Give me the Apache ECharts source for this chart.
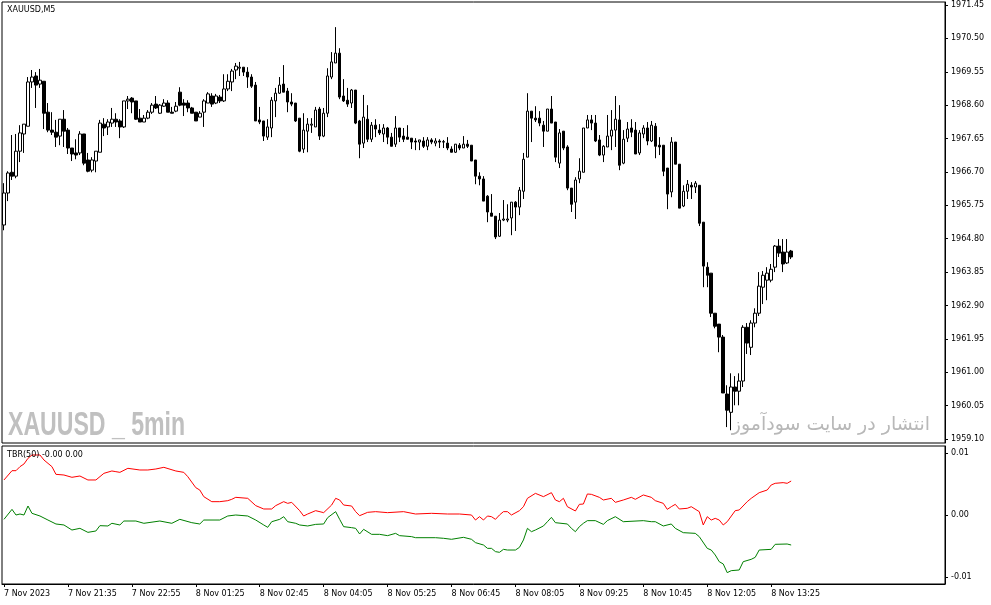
<!DOCTYPE html>
<html>
<head>
<meta charset="utf-8">
<script src="https://cdn.jsdelivr.net/npm/echarts@6/dist/echarts.min.js"></script>
<style>
html,body{margin:0;padding:0;background:#fff;}
#chart{width:991px;height:605px;}
</style>
</head>
<body>
<div id="chart"></div>
<script>
// ---- data ----
const symbolTitle = 'XAUUSD,M5';
const indicatorTitle = 'TBR(50) -0.00 0.00';
const xTickLabels = ['7 Nov 2023','7 Nov 21:35','7 Nov 22:55','8 Nov 01:25','8 Nov 02:45','8 Nov 04:05','8 Nov 05:25','8 Nov 06:45','8 Nov 08:05','8 Nov 09:25','8 Nov 10:45','8 Nov 12:05','8 Nov 13:25'];
const barsPerTick = 16;
const totalSlots = 236;
const priceTicks = [1959.10,1960.05,1961.00,1961.95,1962.90,1963.85,1964.80,1965.75,1966.70,1967.65,1968.60,1969.55,1970.50,1971.45];
const tbrTicks = [-0.01, 0, 0.01];

const opens = [1965.19,1966.10,1966.69,1966.58,1967.29,1967.78,1968.00,1969.26,1969.43,1969.20,
1969.28,1968.40,1967.89,1967.83,1967.72,1968.20,1967.89,1967.38,1967.24,1967.24,
1967.78,1967.04,1966.75,1967.01,1967.26,1968.06,1967.98,1968.09,1968.20,1968.15,
1967.98,1968.72,1968.80,1968.72,1968.23,1968.12,1968.23,1968.40,1968.63,1968.37,
1968.57,1968.66,1968.40,1968.43,1968.97,1968.66,1968.66,1968.52,1968.40,1968.26,
1968.40,1968.66,1968.86,1968.66,1968.83,1968.72,1969.06,1969.26,1969.60,1969.65,
1969.68,1969.54,1969.40,1969.17,1968.18,1968.15,1967.69,1967.95,1968.72,1968.94,
1969.20,1969.00,1968.69,1968.66,1968.23,1967.35,1967.86,1968.03,1967.98,1968.49,
1967.72,1968.37,1969.40,1969.80,1970.08,1968.86,1968.74,1968.66,1969.03,1968.15,
1967.52,1968.20,1967.63,1968.03,1967.89,1967.78,1967.95,1967.69,1967.49,1967.95,
1967.72,1967.69,1967.66,1967.58,1967.55,1967.58,1967.43,1967.61,1967.52,1967.58,
1967.56,1967.52,1967.35,1967.26,1967.46,1967.38,1967.49,1967.46,1967.04,1966.58,
1966.50,1966.01,1965.53,1965.44,1964.87,1965.33,1965.33,1965.39,1965.84,1965.70,
1966.15,1967.12,1968.43,1968.23,1968.23,1968.03,1967.86,1968.49,1968.12,1966.95,
1967.86,1967.41,1966.24,1965.84,1966.50,1966.69,1967.95,1968.18,1968.09,1967.61,
1967.18,1967.41,1967.72,1967.89,1968.18,1966.95,1967.66,1967.95,1967.89,1967.24,
1967.78,1967.95,1967.58,1968.00,1967.46,1967.46,1966.81,1966.13,1967.55,1966.92,
1965.73,1966.15,1966.32,1966.27,1966.32,1965.27,1963.99,1963.82,1962.68,1962.37,
1962.00,1960.38,1959.86,1960.58,1960.46,1960.75,1962.28,1961.71,1962.40,1962.68,
1963.42,1963.62,1963.62,1963.99,1964.59,1964.42,1964.11,1964.45];

const closes = [1966.10,1966.67,1966.58,1967.29,1967.81,1968.06,1969.26,1969.40,1969.17,1969.31,
1968.37,1967.89,1967.83,1967.69,1968.20,1967.86,1967.38,1967.21,1967.18,1967.78,
1966.95,1966.72,1967.04,1967.29,1968.09,1967.95,1968.12,1968.20,1968.12,1967.98,
1968.72,1968.77,1968.69,1968.20,1968.12,1968.23,1968.40,1968.60,1968.52,1968.60,
1968.66,1968.40,1968.37,1968.57,1968.60,1968.60,1968.52,1968.37,1968.15,1968.37,
1968.72,1968.92,1968.63,1968.86,1968.72,1969.06,1969.28,1969.57,1969.71,1969.68,
1969.54,1969.40,1969.14,1968.15,1968.12,1967.72,1967.98,1968.74,1968.94,1969.17,
1968.97,1968.69,1968.63,1968.15,1967.29,1967.89,1968.06,1968.06,1968.46,1967.72,
1968.37,1969.43,1969.83,1970.08,1968.83,1968.72,1968.63,1969.03,1968.09,1967.49,
1968.26,1967.63,1968.03,1967.92,1967.81,1967.95,1967.69,1967.43,1967.95,1967.69,
1967.63,1967.63,1967.55,1967.55,1967.61,1967.43,1967.61,1967.55,1967.58,1967.55,
1967.55,1967.38,1967.26,1967.49,1967.38,1967.49,1967.43,1967.01,1966.58,1966.50,
1965.87,1965.56,1965.44,1964.85,1965.33,1965.36,1965.36,1965.84,1965.70,1966.18,
1967.06,1968.43,1968.23,1968.18,1968.09,1967.86,1968.49,1968.09,1967.12,1967.81,
1967.38,1966.24,1965.78,1966.47,1966.72,1967.95,1968.18,1968.09,1967.58,1967.18,
1967.43,1967.72,1967.89,1968.20,1966.89,1967.63,1967.92,1967.83,1967.21,1967.81,
1967.95,1967.58,1968.03,1967.43,1967.41,1966.72,1966.07,1967.55,1966.92,1965.67,
1966.15,1966.35,1966.27,1966.38,1965.24,1964.02,1963.76,1962.68,1962.31,1962.00,
1960.41,1959.92,1960.58,1960.46,1960.75,1962.28,1961.83,1962.40,1962.68,1963.45,
1963.76,1963.82,1963.93,1964.59,1964.39,1964.08,1964.42,1964.28];

const lows = [1965.04,1965.87,1966.47,1966.52,1966.98,1967.24,1968.00,1969.09,1968.52,1969.09,
1967.92,1967.83,1967.75,1967.41,1967.46,1967.41,1967.21,1967.01,1967.06,1967.18,
1966.89,1966.69,1966.69,1966.69,1967.26,1967.72,1967.75,1967.98,1967.98,1967.66,
1967.95,1968.49,1968.37,1968.18,1968.12,1968.12,1968.20,1968.35,1968.49,1968.35,
1968.55,1968.40,1968.37,1968.40,1968.57,1968.29,1968.40,1968.37,1968.15,1968.26,
1967.98,1968.66,1968.55,1968.63,1968.66,1968.69,1969.00,1969.00,1969.34,1969.43,
1969.43,1969.09,1969.09,1968.15,1968.06,1967.58,1967.61,1967.69,1968.26,1968.92,
1968.97,1968.40,1968.57,1968.12,1967.26,1967.24,1967.26,1967.81,1967.98,1967.61,
1967.69,1968.26,1969.34,1969.80,1968.77,1968.69,1968.55,1968.52,1968.06,1967.09,
1967.38,1967.55,1967.55,1967.69,1967.75,1967.55,1967.49,1967.43,1967.41,1967.55,
1967.55,1967.63,1967.35,1967.32,1967.32,1967.38,1967.32,1967.49,1967.43,1967.38,
1967.38,1967.32,1967.26,1967.24,1967.32,1967.38,1967.38,1967.01,1966.35,1966.32,
1965.87,1965.27,1965.44,1964.79,1964.85,1965.30,1965.27,1964.90,1965.02,1965.47,
1965.93,1967.12,1967.55,1968.12,1968.00,1967.41,1967.86,1968.09,1966.98,1966.81,
1967.32,1966.18,1965.56,1965.36,1966.38,1966.69,1967.95,1967.89,1967.55,1967.15,
1966.98,1967.41,1967.32,1967.41,1966.75,1966.92,1967.55,1967.69,1967.21,1967.18,
1967.66,1967.46,1967.55,1967.09,1967.18,1966.58,1965.64,1965.98,1966.92,1965.67,
1965.70,1965.93,1965.93,1966.10,1965.16,1963.42,1963.42,1962.57,1962.25,1961.57,
1960.41,1959.44,1959.35,1960.06,1960.06,1960.58,1961.52,1961.49,1962.28,1962.60,
1962.94,1963.05,1963.56,1963.85,1964.28,1963.85,1964.08,1964.22];

const highs = [1966.38,1966.72,1967.75,1967.78,1968.03,1968.06,1969.40,1969.60,1969.54,1969.63,
1969.28,1968.66,1968.40,1968.18,1968.20,1968.46,1967.95,1967.38,1967.63,1967.86,
1967.78,1967.24,1967.12,1967.29,1968.18,1968.23,1968.20,1968.52,1968.37,1968.20,
1968.72,1968.86,1968.83,1968.72,1968.49,1968.32,1968.46,1968.66,1968.86,1968.63,
1968.77,1968.74,1968.55,1968.69,1969.11,1968.77,1968.74,1968.55,1968.40,1968.43,
1968.77,1968.97,1968.94,1968.92,1968.89,1969.48,1969.48,1969.63,1969.80,1969.83,
1969.68,1969.68,1969.48,1969.26,1968.55,1968.15,1968.20,1968.83,1969.09,1969.40,
1969.74,1969.09,1968.94,1968.66,1968.23,1968.37,1968.23,1968.23,1968.55,1968.55,
1968.52,1969.65,1970.11,1970.82,1970.22,1969.34,1969.09,1969.06,1969.03,1968.18,
1968.89,1968.60,1968.12,1968.20,1968.06,1968.06,1967.98,1967.81,1968.29,1967.95,
1967.95,1968.03,1967.66,1967.66,1967.61,1967.69,1967.69,1967.66,1967.66,1967.63,
1967.61,1967.69,1967.43,1967.49,1967.52,1967.72,1967.61,1967.46,1967.04,1966.69,
1966.58,1966.04,1966.07,1965.44,1965.53,1965.90,1965.78,1965.84,1965.87,1966.27,
1967.24,1968.94,1968.43,1968.57,1968.43,1968.15,1968.49,1968.86,1968.12,1967.92,
1967.86,1967.46,1966.24,1966.55,1967.09,1967.95,1968.32,1968.32,1968.32,1967.75,
1967.46,1968.32,1968.46,1968.86,1968.60,1967.89,1968.12,1968.20,1968.12,1967.89,
1968.03,1968.12,1968.15,1968.09,1967.69,1967.46,1966.81,1967.69,1967.55,1966.92,
1966.32,1966.47,1966.41,1966.44,1966.32,1965.27,1964.13,1963.82,1962.68,1962.37,
1962.06,1960.63,1960.97,1960.89,1960.97,1962.34,1962.40,1962.48,1962.82,1963.85,
1963.88,1963.99,1964.08,1964.62,1964.79,1964.79,1964.79,1964.48];

// TBR(50) lines: [bar index, value]
const tbrRed = [[0,0.00565],[2,0.00715],[3,0.00715],[4,0.0078],[5,0.00823],[6,0.00914],[7,0.00968],[9,0.00968],[10,0.00887],[12,0.0078],
[13,0.00656],[15,0.00645],[17,0.00608],[19,0.00629],[21,0.00565],[23,0.00565],[25,0.00672],[27,0.0071],[28,0.00699],[29,0.00688],
[31,0.00753],[34,0.00726],[36,0.00726],[38,0.00742],[40,0.00769],[43,0.0071],[45,0.00688],[46,0.00618],[48,0.00441],[49,0.00403],
[50,0.00296],[52,0.00215],[54,0.00215],[56,0.00231],[57,0.00253],[58,0.00285],[61,0.00269],[63,0.00151],[65,0.00097],[67,0.00097],
[68,0.00151],[70,0.00215],[71,0.00188],[72,0.00204],[74,0.0007],[75,-0.00016],[76,0.00016],[78,0.0007],[80,0.00038],[82,0.00161],
[83,0.00269],[84,0.00242],[85,0.00161],[87,0.00145],[88,0.00054],[89,-0.00011],[91,0.00043],[93,0.00054],[96,0.00038],[100,0.00054],
[103,0.00016],[107,0.00027],[111,0.00016],[114,0.00016],[117,0],[118,-0.00081],[119,-0.00027],[120,-0.00081],[121,-0.00016],[122,-0.00027],
[123,-0.0007],[124,0],[125,0.00054],[126,0.00054],[127,0],[129,0.0007],[130,0.00134],[131,0.00269],[133,0.00349],[135,0.00296],
[137,0.0036],[138,0.00242],[139,0.00215],[140,0.00269],[141,0.00134],[143,0.00065],[144,0.00172],[145,0.00177],[146,0.00339],[147,0.00333],
[149,0.00285],[150,0.00242],[152,0.00269],[153,0.00204],[155,0.00242],[157,0.00285],[158,0.00253],[160,0.00323],[162,0.00285],[163,0.00231],
[165,0.00188],[166,0.00091],[167,0.00134],[168,0.00172],[169,0.00097],[171,0.00108],[172,0.00134],[174,0.00054],[175,-0.00161],[176,-0.00027],
[177,-0.00081],[178,-0.00054],[179,-0.00081],[180,-0.00161],[181,-0.00108],[183,0.0007],[184,0.00081],[186,0.00215],[187,0.00269],[189,0.0036],
[191,0.00403],[192,0.00484],[193,0.00511],[195,0.00522],[196,0.00511],[197,0.00548]];

const tbrGreen = [[0,-0.0007],[2,0.00091],[3,0],[4,0.00016],[5,0],[6,0.00145],[7,0.00027],[9,-0.00016],[11,-0.00081],[13,-0.00145],
[15,-0.00161],[17,-0.00242],[19,-0.00215],[21,-0.0028],[23,-0.00258],[24,-0.00172],[26,-0.00177],[27,-0.00134],[29,-0.00161],[30,-0.00097],
[33,-0.00097],[35,-0.00134],[39,-0.00097],[42,-0.00134],[44,-0.0007],[47,-0.00124],[49,-0.00145],[50,-0.00081],[54,-0.00081],[56,-0.00016],
[58,0],[61,-0.00016],[63,-0.00081],[65,-0.00161],[66,-0.00199],[67,-0.00108],[69,-0.0007],[70,-0.00027],[71,-0.00108],[73,-0.00134],
[74,-0.00161],[76,-0.00177],[78,-0.00151],[80,-0.00145],[81,-0.00043],[83,0.00054],[84,-0.0007],[85,-0.00188],[87,-0.00204],[88,-0.00215],
[89,-0.00306],[90,-0.00231],[92,-0.00312],[94,-0.00312],[96,-0.00333],[98,-0.00296],[99,-0.00333],[102,-0.00349],[103,-0.00366],[108,-0.00366],
[110,-0.00376],[112,-0.00392],[115,-0.0036],[117,-0.00392],[118,-0.00446],[120,-0.00484],[121,-0.00538],[122,-0.00538],[123,-0.00591],[124,-0.00602],
[125,-0.00554],[126,-0.00565],[128,-0.00565],[129,-0.00522],[130,-0.00403],[131,-0.00215],[132,-0.00269],[133,-0.00242],[135,-0.00177],[136,-0.00108],
[137,-0.00038],[138,-0.00124],[141,-0.00145],[142,-0.00215],[143,-0.00269],[144,-0.00188],[145,-0.00134],[146,-0.00091],[148,-0.00091],[150,-0.00151],
[151,-0.00091],[153,-0.00027],[155,-0.00108],[160,-0.00091],[162,-0.00108],[163,-0.00108],[165,-0.00177],[167,-0.00145],[168,-0.00215],[170,-0.00285],
[173,-0.00296],[174,-0.00349],[176,-0.00538],[177,-0.00565],[178,-0.00645],[179,-0.00753],[180,-0.0079],[181,-0.0093],[182,-0.00898],[184,-0.00887],
[185,-0.00753],[187,-0.00715],[188,-0.00683],[189,-0.00565],[192,-0.00554],[193,-0.00473],[196,-0.00468],[197,-0.00484]];

// ---- build ----
const categories = [];
for (let i = 0; i < totalSlots; i++) {
  categories.push(i % barsPerTick === 0 && xTickLabels[i / barsPerTick] ? xTickLabels[i / barsPerTick] : '');
}
const candles = opens.map((o, i) => [o, closes[i], lows[i], highs[i]]);

const smallFont = 'DejaVu Sans';
const chart = echarts.init(document.getElementById('chart'), null, {renderer: 'canvas'});
chart.setOption({
  animation: false,
  backgroundColor: '#ffffff',
  grid: [
    {left: 2, top: 2, width: 943, height: 441, show: true, borderColor: '#000', borderWidth: 1, backgroundColor: '#fff'},
    {left: 2, top: 446, width: 943, height: 138, show: true, borderColor: '#000', borderWidth: 1, backgroundColor: '#fff'}
  ],
  xAxis: [
    {type: 'category', gridIndex: 0, data: categories, boundaryGap: true,
     axisLine: {show: false, onZero: false}, axisTick: {show: false}, axisLabel: {show: false}, splitLine: {show: false}},
    {type: 'category', gridIndex: 1, data: categories, boundaryGap: true, position: 'bottom',
     axisLine: {show: true, onZero: false, lineStyle: {color: '#000', width: 1}},
     axisTick: {show: true, alignWithLabel: true, length: 3, lineStyle: {color: '#000'},
                interval: (idx, val) => val !== ''},
     axisLabel: {show: true, interval: 0, align: 'left', margin: 6, color: '#000',
                 fontFamily: smallFont, fontSize: 8},
     splitLine: {show: false}}
  ],
  yAxis: [
    {type: 'value', gridIndex: 0, position: 'right', min: 1958.987, max: 1971.535, scale: true,
     axisLine: {show: true, lineStyle: {color: '#000'}},
     axisTick: {show: true, inside: false, length: 3, lineStyle: {color: '#000'}, customValues: priceTicks},
     axisLabel: {show: true, margin: 6, color: '#000', fontFamily: smallFont, fontSize: 8,
                 customValues: priceTicks, formatter: v => v.toFixed(2)},
     splitLine: {show: false}},
    {type: 'value', gridIndex: 1, position: 'right', min: -0.01113, max: 0.01113,
     axisLine: {show: true, lineStyle: {color: '#000'}},
     axisTick: {show: true, inside: false, length: 3, lineStyle: {color: '#000'}, customValues: tbrTicks},
     axisLabel: {show: true, margin: 6, color: '#000', fontFamily: smallFont, fontSize: 8,
                 customValues: tbrTicks, formatter: v => v.toFixed(2)},
     splitLine: {show: false}}
  ],
  series: [
    {type: 'candlestick', xAxisIndex: 0, yAxisIndex: 0, data: candles, barWidth: 3,
     itemStyle: {color: '#ffffff', color0: '#000000', borderColor: '#000000', borderColor0: '#000000', borderWidth: 1}},
    {type: 'line', xAxisIndex: 1, yAxisIndex: 1, data: tbrRed, showSymbol: false, symbol: 'none',
     lineStyle: {color: '#ff0000', width: 1}, z: 3},
    {type: 'line', xAxisIndex: 1, yAxisIndex: 1, data: tbrGreen, showSymbol: false, symbol: 'none',
     lineStyle: {color: '#008000', width: 1}, z: 3}
  ],
  graphic: [
    {type: 'text', left: 7, top: 6, z: 10, style: {text: symbolTitle, fill: '#000', font: '8px "DejaVu Sans"'}},
    {type: 'text', left: 7, top: 451, z: 10, style: {text: indicatorTitle, fill: '#000', font: '8px "DejaVu Sans"'}},
    {type: 'text', x: 8, y: 442, scaleX: 0.7, z: 1, style: {text: 'XAUUSD _ 5min', fill: '#c0c0c0',
      textVerticalAlign: 'bottom', verticalAlign: 'bottom',
      font: 'bold 33px "Liberation Sans", sans-serif'}},
    {type: 'text', x: 930, y: 435, z: 1, style: {text: 'انتشار در سایت سودآموز', fill: '#b8b8b8',
      align: 'right', verticalAlign: 'bottom', textAlign: 'right', textVerticalAlign: 'bottom',
      font: '19px "DejaVu Sans", sans-serif'}}
  ]
});
</script>
</body>
</html>
